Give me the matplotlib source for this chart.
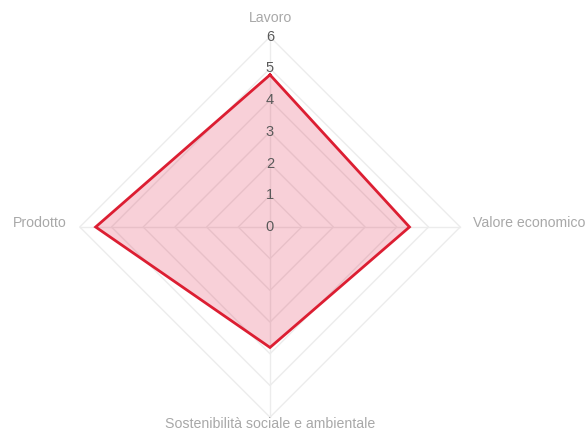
import matplotlib
matplotlib.use("Agg")
import matplotlib.pyplot as plt
import numpy as np

plt.rcParams["font.family"] = ["Liberation Sans", "DejaVu Sans"]

LABELS = ["Lavoro", "Valore economico", "Sostenibilità sociale e ambientale", "Prodotto"]
VALUES = [4.8, 4.4, 3.8, 5.5]
TICKS = [0, 1, 2, 3, 4, 5, 6]
R_MAX = 6

GRID = "#ececec"
LINE = "#dc1e32"
FILL = (220 / 255, 20 / 255, 60 / 255, 0.2)
LABEL_COLOR = "#a8a8a8"

# angles: first axis at top, going clockwise
angles = np.pi / 2 - np.arange(len(LABELS)) * 2 * np.pi / len(LABELS)
cx, cy = np.cos(angles), np.sin(angles)

fig = plt.figure(figsize=(5.85, 4.30), dpi=100)
ax = fig.add_axes([0, 0, 1, 1])
unit = 31.7  # px per unit
ax.set_xlim(-270 / unit, (585 - 270) / unit)
ax.set_ylim(-(430 - 227) / unit, 227 / unit)
ax.axis("off")

# polygon grid
for t in TICKS[1:]:
    xs = np.append(cx * t, cx[0] * t)
    ys = np.append(cy * t, cy[0] * t)
    ax.plot(xs, ys, color=GRID, lw=1, zorder=1)
# spokes
for x, y in zip(cx, cy):
    ax.plot([0, x * R_MAX], [0, y * R_MAX], color=GRID, lw=1, zorder=1)

# data
vals = np.array(VALUES)
px, py = cx * vals, cy * vals
ax.fill(px, py, color=FILL, lw=0, zorder=2)
ax.plot(np.append(px, px[0]), np.append(py, py[0]), color=LINE, lw=2,
        solid_joinstyle="miter", zorder=3)

# tick labels on the vertical axis
for t in TICKS:
    ax.text(0, t, str(t), ha="center", va="center", fontsize=10.5,
            color="#5a5a5a", zorder=4)

# point labels
pad = 0.4
fs = 10.2
ax.text(0, R_MAX + 0.6, LABELS[0], ha="center", va="center", fontsize=fs, color=LABEL_COLOR)
ax.text(R_MAX + pad, 0.12, LABELS[1], ha="left", va="center", fontsize=fs, color=LABEL_COLOR)
ax.text(0, -R_MAX - 0.2, LABELS[2], ha="center", va="center", fontsize=fs, color=LABEL_COLOR)
ax.text(-R_MAX - pad, 0.12, LABELS[3], ha="right", va="center", fontsize=fs, color=LABEL_COLOR)

fig.savefig("out.png", dpi=100)
